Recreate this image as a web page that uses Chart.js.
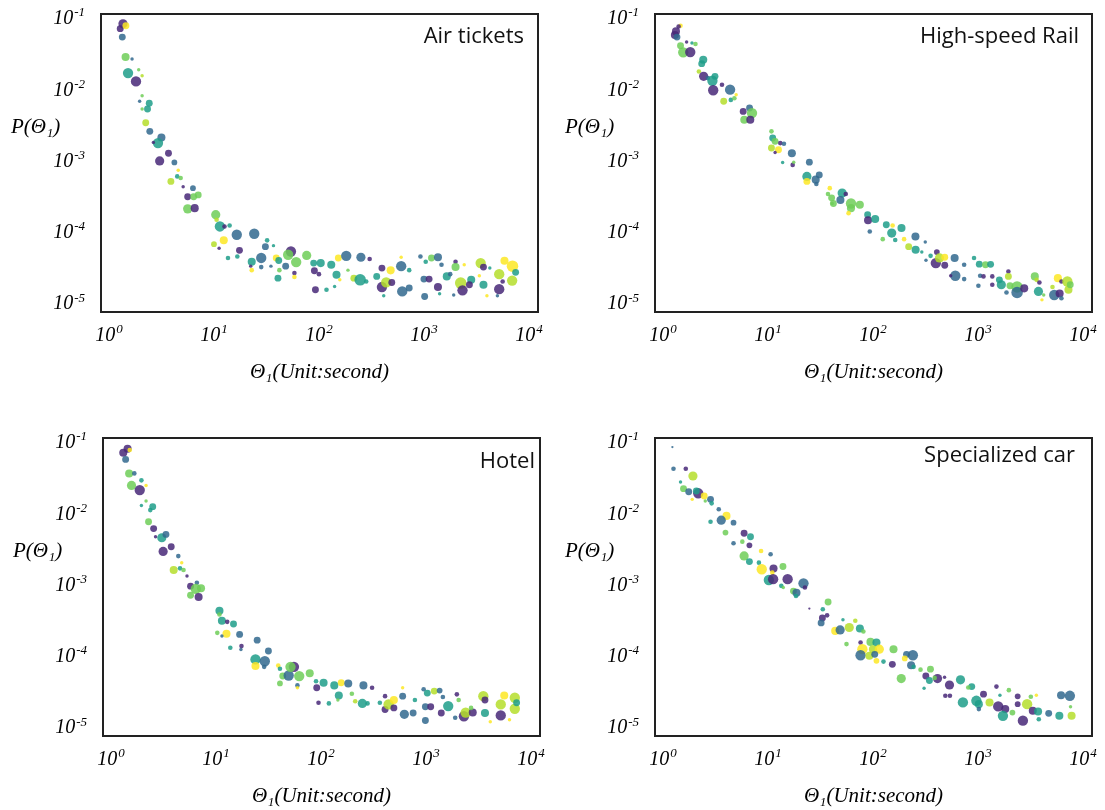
<!DOCTYPE html>
<html lang="en">
  <head>
    <meta charset="UTF-8" />
    <title>P(Θ1) by product</title>
    <style>
      body { margin: 0; background: #fff; overflow: hidden; }
      canvas { position: absolute; }
    </style>
  </head>
  <body>
    <canvas id="air" width="551" height="386" style="left:0px;top:0px"></canvas>
    <canvas id="rail" width="551" height="386" style="left:554px;top:0px"></canvas>
    <canvas id="hotel" width="551" height="386" style="left:2px;top:424px"></canvas>
    <canvas id="car" width="551" height="386" style="left:554px;top:424px"></canvas>
    <script src="https://cdn.jsdelivr.net/npm/chart.js@4.4.1/dist/chart.umd.min.js"></script>
    <script>
      const xTicks = [1, 10, 100, 1000, 10000];
      const xTickExp = ["0", "1", "2", "3", "4"];
      const yTicks = [1e-5, 1e-4, 1e-3, 1e-2, 1e-1];
      const yTickExp = ["-5", "-4", "-3", "-2", "-1"];

      // colour groups 0..5, viridis from purple to yellow
      const viridis = [
        "rgba(72,40,120,0.85)",
        "rgba(49,104,142,0.85)",
        "rgba(31,158,137,0.85)",
        "rgba(110,206,88,0.85)",
        "rgba(181,222,43,0.85)",
        "rgba(253,231,37,0.85)",
      ];

      // Air tickets
      const airX = [
        1.36,1.28,1.45,1.34,1.44,1.66,1.52,1.92,2.07,1.81,
        2.07,1.96,2.42,2.33,2.07,2.24,2.45,3.16,2.93,2.65,
        3.69,3.04,4.2,4.57,4.47,3.89,4.82,5.09,6.31,5.62,
        6.41,7.08,5.62,6.56,10.4,10.6,11.4,12.6,14.1,16.5,
        24.2,10,12.4,11.2,17.5,13.6,16.7,32.1,30.9,36.9,
        22.9,22.4,22.9,28.2,28.2,34.9,39.2,41.4,48.2,40.7,
        42,54.1,50.9,60.7,58.4,58.4,76.4,89.1,104,90.5,
        100,92.6,118,131,153,182,147,158,141,189,
        215,247,251,304,282,355,398,398,437,482,
        494,414,607,621,724,724,607,926,1040,1180,
        1360,1470,1000,1120,1016,1360,1650,1410,2000,2000,
        1780,2240,2330,2420,2820,2710,1920,3470,3690,3690,
        3370,4240,3980,5210,5210,5010,5850,5620,6970,6920,
        7470,
      ];
      const airY = [
        0.083,0.071,0.078,0.054,0.0284,0.0266,0.0169,0.0188,0.0155,0.0129,
        0.0081,0.0068,0.0064,0.0053,0.0053,0.0034,0.00257,0.00211,0.00176,0.0018,
        0.00127,0.00099,0.00094,0.00073,0.0006,0.00051,0.00057,0.00043,0.00041,0.00031,
        0.00031,0.00033,0.00021,0.000215,0.000174,0.000148,0.000119,0.000119,0.000123,9.1e-5,
        9.4e-5,6.7e-5,7.6e-5,5.9e-5,5.5e-5,4.3e-5,4.5e-5,7.6e-5,6.2e-5,6.4e-5,
        3.8e-5,3.3e-5,2.9e-5,4.3e-5,3.2e-5,3.3e-5,4.3e-5,3.97e-5,3.3e-5,2.24e-5,
        2.9e-5,5.3e-5,4.77e-5,3.76e-5,2.64e-5,2.32e-5,4.67e-5,3.64e-5,3.64e-5,2.84e-5,
        2.55e-5,1.54e-5,1.54e-5,3.45e-5,4.3e-5,4.6e-5,2.5e-5,2.12e-5,1.71e-5,2.9e-5,
        2.24e-5,2.12e-5,4.4e-5,4.15e-5,2.01e-5,2.37e-5,3.1e-5,1.68e-5,1.95e-5,2.88e-5,
        1.95e-5,1.27e-5,3.3e-5,1.46e-5,2.9e-5,1.63e-5,4.4e-5,4.5e-5,3.8e-5,4.3e-5,
        4.4e-5,3.45e-5,2.17e-5,2.17e-5,1.24e-5,1.68e-5,2.37e-5,1.35e-5,3.8e-5,3.2e-5,
        2.55e-5,1.91e-5,1.51e-5,3.45e-5,2.12e-5,1.81e-5,1.3e-5,3.64e-5,3.2e-5,1.81e-5,
        2.42e-5,3.1e-5,1.27e-5,2.55e-5,1.57e-5,1.27e-5,3.93e-5,2.01e-5,3.3e-5,2.07e-5,
        2.7e-5,
      ];
      const airR = [
        4,3,3,3,3.5,1.5,4.5,1.5,1.5,4.5,
        1.5,1.5,3,3,1.5,3,3,3.5,4.5,1.5,
        3,4,2.5,1.5,2,3,2,1.5,2.5,3,
        3,3,4,3.5,4,2,4.5,2,2,4.5,
        4.5,2.5,3.5,1.5,3,2,2,2,3,1.5,
        3.5,1.5,2,4.5,2,1.5,3,3,3,3,
        2,4.5,4.5,4.5,2,2,4,3,3.5,3,
        2,3,2,3.5,3,4.5,3.5,1.5,1.5,1.5,
        3,5,4,2,2,3,3,4.5,4.5,3.5,
        3,1.5,4.5,4.5,2,3,1.5,2,2,3,
        3.5,2,3,3,3,3.5,3.5,1.5,2,3.5,
        2,5,4.5,1.5,3.5,3,1.5,4.5,3,3.5,
        1.5,1.5,1.5,4.5,4.5,1.5,3.5,2,5,4.5,
        3,
      ];
      const airC = [
        0,0,5,1,3,1,2,3,4,0,
        3,1,2,2,3,4,1,1,2,0,
        0,0,1,5,2,4,3,0,1,0,
        3,3,3,0,3,4,2,0,2,1,
        1,4,5,0,0,2,2,2,1,2,
        2,0,5,1,1,1,5,2,1,2,
        3,0,3,3,0,5,3,2,2,0,
        0,0,2,2,5,1,2,5,2,3,
        4,2,1,0,2,2,0,0,4,5,
        0,2,1,1,2,1,5,1,2,3,
        1,1,1,0,1,0,2,2,0,3,
        1,4,0,5,2,0,1,4,0,2,
        5,2,5,4,0,1,5,0,5,4,
        2,
      ];

      // High-speed Rail
      const railX = [
        1.33,1.30,1.36,1.47,1.41,1.47,1.56,1.82,1.68,1.89,
        2.04,2.42,2.34,2.2,2.44,2.68,2.96,3.13,3.01,3.65,
        4.36,3.79,4.43,4.79,4.98,5.81,6.68,7.05,5.95,6.79,
        10.8,11.1,11.7,13.1,14.2,10.8,12.6,11.7,16.9,13.8,
        17.2,17.6,24.8,23.5,23.5,28.5,30.8,28.9,38.8,37.3,
        40.4,42,50.9,55.1,49,41,61.8,61.8,75,58.6,
        89,89.8,105,93.3,124,134,154,151,163,187,
        198,254,315,219,255,292,406,354,397,430,
        483,483,320,600,739,609,739,550,918,1030,
        1180,1320,1050,1130,1010,1370,1370,1600,1670,1950,
        1950,2020,1870,2360,2360,2760,3480,3620,3850,3770,
        4230,4070,5130,5330,6000,5770,6240,7110,7280,7570,
        6240,
      ];
      const railY = [
        0.065,0.058,0.054,0.078,0.076,0.041,0.033,0.0333,0.046,0.0446,
        0.0432,0.026,0.0229,0.0178,0.0152,0.0144,0.0132,0.0152,0.0097,0.0116,
        0.0099,0.0068,0.0071,0.0075,0.0084,0.0049,0.00546,0.00464,0.00374,0.00374,
        0.00257,0.00207,0.00186,0.00176,0.00172,0.0015,0.00142,0.0013,0.00127,0.00094,
        0.00087,0.00095,0.00095,0.0006,0.00051,0.00054,0.00063,0.00047,0.00041,0.00034,
        0.0003,0.00025,0.00035,0.00034,0.00028,0.00025,0.00025,0.000215,0.00024,0.000183,
        0.000174,0.000145,0.000151,0.000101,7.9e-5,0.000126,0.000123,9.6e-5,7.7e-5,0.000113,
        7.9e-5,8.6e-5,7.2e-5,6.2e-5,5.6e-5,5.2e-5,5.2e-5,4.6e-5,3.64e-5,4.3e-5,
        4.4e-5,3.4e-5,4e-5,4.3e-5,3.45e-5,2.42e-5,2.17e-5,2.42e-5,4.3e-5,3.52e-5,
        3.45e-5,3.5e-5,2.42e-5,2.37e-5,1.75e-5,2.37e-5,1.81e-5,2.12e-5,1.81e-5,2.78e-5,
        2.37e-5,1.75e-5,1.41e-5,1.68e-5,1.41e-5,1.61e-5,2.37e-5,2.12e-5,1.95e-5,1.46e-5,
        1.3e-5,1.11e-5,1.68e-5,1.3e-5,1.36e-5,2.24e-5,2.01e-5,2.01e-5,1.54e-5,1.81e-5,
        1.17e-5,
      ];
      const railR = [
        3.5,3.5,3,2,2,3,4.5,4.5,1.5,1.5,
        2,3.5,3,2,4,2,4.5,3,4.5,2,
        4.5,3,2,2,1.5,3,3,4.5,3.5,3.5,
        2,3,3,2,2,3,3,1.5,3.5,1.5,
        2,1.5,3,4,3,3.5,3,2,2,2,
        3,3,4,2,3.5,1.5,4.5,3.5,3.5,2,
        3,3.5,3.5,2,2,3,2,4,2,3.5,
        2,3.5,1.5,3,3.5,1.5,2.5,2,4.5,4,
        3,3,1.5,3.5,2,4.5,2,1.5,2,3,
        3,3,2,2,2,2,2,3,4,2,
        3,3,2,5,5,3.5,3.5,2,2,4,
        1.5,1.5,2,4.5,3.5,3.5,2,4.5,3.5,3,
        2,
      ];
      const railC = [
        0,0,1,5,0,3,3,0,0,2,
        3,2,2,4,0,1,2,2,0,0,
        1,4,2,3,5,0,1,3,3,0,
        3,2,3,0,1,4,5,0,1,2,
        0,3,1,2,5,1,1,1,5,3,
        3,3,2,0,1,3,3,3,3,5,
        2,0,2,1,3,2,5,2,2,2,
        5,1,1,4,2,2,0,2,0,4,
        5,0,1,1,1,1,1,0,2,2,
        3,2,1,0,1,0,0,2,2,0,
        4,3,1,3,1,0,3,4,0,2,
        3,5,4,1,0,5,0,4,4,3,
        1,
      ];

      // Hotel
      const hotelX = [
        1.44,1.31,1.51,1.38,1.49,1.67,1.57,1.88,1.95,2.16,
        2.16,1.95,2.5,2.37,2.28,2.55,2.66,3.05,3.34,3.75,
        3.14,4.38,3.96,4.55,4.91,4.72,5.3,5.73,6.58,6.43,
        7.21,5.73,6.84,10.8,10.8,11.4,12.8,14.7,10.3,12.6,
        11.4,16.8,13.7,17.5,17.3,24.7,23.8,23.8,29.2,31.6,
        28.8,39.2,40.7,43.3,40.7,49.3,55.3,51.3,62.1,59.7,
        59.7,78.2,89.8,91.2,106,134,156,182,94.8,119,
        148,145,197,212,254,307,248,278,364,408,
        408,441,495,495,600,623,755,785,600,951,
        1030,1200,1350,1450,988,1110,988,1400,1630,1970,
        2050,1900,2300,2390,2790,2690,3520,3650,3650,4100,
        5160,5160,5570,6250,7020,7020,7300,
      ];
      const hotelY = [
        0.0806,0.0708,0.0772,0.0571,0.0363,0.0363,0.0246,0.0212,0.029,0.0246,
        0.0149,0.0129,0.0124,0.0111,0.0076,0.0061,0.0047,0.00454,0.00506,0.0034,
        0.00292,0.00251,0.0016,0.00169,0.0016,0.00202,0.00132,0.00095,0.00106,0.00087,
        0.00089,0.00071,0.00067,0.00043,0.00038,0.00031,0.0003,0.00028,0.00021,0.000204,
        0.00019,0.0002,0.00013,0.000137,0.000123,0.000166,8.9e-5,7.2e-5,8.4e-5,0.000117,
        7e-5,7.3e-5,6.6e-5,5.2e-5,4.1e-5,5.3e-5,7e-5,7e-5,5.2e-5,3.85e-5,
        3.56e-5,5.7e-5,4.4e-5,3.56e-5,4.2e-5,3.85e-5,4.2e-5,4.1e-5,2.2e-5,2.15e-5,
        2.78e-5,2.4e-5,2.94e-5,2.3e-5,3.85e-5,3.56e-5,2.15e-5,2.15e-5,2.2e-5,2.72e-5,
        1.77e-5,2.08e-5,2.4e-5,1.86e-5,2.72e-5,1.51e-5,1.58e-5,2.4e-5,3.56e-5,3.4e-5,
        3e-5,3.2e-5,3.25e-5,2.64e-5,1.93e-5,1.93e-5,1.24e-5,1.58e-5,1.97e-5,2.88e-5,
        2.4e-5,1.35e-5,1.42e-5,1.6e-5,1.6e-5,1.86e-5,2.72e-5,2.4e-5,1.58e-5,1.19e-5,
        2.08e-5,1.46e-5,2.78e-5,1.27e-5,2.58e-5,1.81e-5,2.2e-5,
      ];
      const hotelR = [
        3.5,3.5,2,3,3.5,2,4,4.5,2,1.5,
        1.5,1.5,3,2,3,3,1.5,4,3,3,
        4,2,3.5,2,2,1.5,1.5,3,2,4.5,
        3.5,3,3.5,3.5,2,3.5,2,3,2,3.5,
        1.5,3,2,2,1.5,3,4.5,3.5,4.5,3,
        2,2,2,3,2.5,4.5,4.5,4.5,4.5,2,
        1.5,3.5,2,3,3.5,3.5,3,3.5,2,2,
        3.5,1.5,2,2,3.5,2,4,2,2,2,
        3,4.5,3.5,3,3,4,3,2,1.5,2,
        3,3,2.5,2,3,3,3,3,4.5,2,
        2,2,4.5,4.5,3.5,2,4.5,3,3.5,1.5,
        4.5,4.5,3.5,1.5,4.5,4.5,3,
      ];
      const hotelC = [
        0,0,5,1,3,1,3,0,2,5,
        3,2,2,2,3,0,0,2,1,0,
        0,1,4,2,3,5,0,0,1,3,
        3,3,0,2,3,2,0,2,3,5,
        1,1,2,0,1,1,2,5,1,1,
        1,5,2,3,3,1,0,3,3,1,
        5,3,2,0,2,2,5,1,0,2,
        2,3,3,4,1,0,2,2,2,0,
        0,4,5,0,1,1,1,2,5,1,
        2,4,1,1,1,0,1,0,2,0,
        3,1,0,4,0,3,4,0,2,5,
        4,0,5,5,4,4,2,
      ];

      // Specialized car
      const carX = [
        1.23,1.26,1.65,1.93,1.47,1.57,1.76,2.17,2.08,2.47,
        1.9,2.84,2.91,2.53,3.4,4.03,3.59,2.84,4.7,3.94,
        5.93,6.82,4.7,5.7,6.66,8.6,10.6,5.93,6.66,8.2,
        8.73,11.3,13.9,11,10.2,11.2,15.4,21.8,22.5,13.4,
        14,17.5,18.7,18.5,37.4,33.3,24.8,33,36.6,32.1,
        43.7,48.7,59.5,67.9,51.8,56,75.1,81.1,76.2,94.7,
        108,100,79.3,76.2,92.5,115,108,126,104,157,
        153,209,240,201,231,244,186,284,319,353,
        345,412,387,481,307,536,682,541,489,719,
        873,809,966,1020,1130,1290,1020,1500,1560,1820,
        1730,1620,1970,2390,2390,2130,2680,2940,3190,3600,
        3330,3740,3800,4720,5960,6190,7510,7800,7620,
      ];
      const carY = [
        0.085,0.0423,0.0423,0.0334,0.0275,0.0222,0.0201,0.0191,0.0206,0.0175,
        0.0157,0.0157,0.0138,0.0149,0.0114,0.0092,0.008,0.0076,0.0074,0.00536,
        0.00525,0.0047,0.0038,0.004,0.00356,0.00296,0.00266,0.00252,0.0021,0.00203,
        0.00164,0.00168,0.00179,0.00147,0.00116,0.00119,0.00119,0.00104,0.00091,0.00096,
        0.00091,0.00081,0.00077,0.00069,0.00057,0.00045,0.00046,0.00034,0.00037,0.00029,
        0.000224,0.000231,0.00025,0.00031,0.00032,0.000146,0.000242,0.00022,0.000154,0.000157,
        0.000154,0.000124,0.000124,0.000102,0.0001,0.000124,8.5e-5,8.3e-5,0.000105,0.000124,
        7.6e-5,0.000105,0.000102,9.2e-5,7.4e-5,7e-5,4.8e-5,6.4e-5,5.2e-5,6.5e-5,
        4.5e-5,4.8e-5,4.9e-5,5e-5,3.5e-5,3.9e-5,4.6e-5,2.75e-5,2.75e-5,2.22e-5,
        3.7e-5,3.6e-5,2.34e-5,2.1e-5,2.9e-5,2.22e-5,1.79e-5,3.7e-5,1.95e-5,1.79e-5,
        1.44e-5,2.8e-5,3.3e-5,2.7e-5,2.1e-5,1.6e-5,1.23e-5,2.1e-5,2.67e-5,2.8e-5,
        1.7e-5,1.66e-5,1.29e-5,1.56e-5,1.44e-5,2.8e-5,2.75e-5,1.44e-5,1.93e-5,
      ];
      const carR = [
        1,2,2,4,1.5,3,3,4.5,3,3,
        1.5,3,2,1.5,2,3.5,4,2,2.5,2.5,
        3,3,2,2,2.5,2,2,4,3,2,
        4.5,3.5,3,2,4.5,4.5,4.5,4.5,2,2,
        1.5,3,3.5,2,3,2,1,3,2,3,
        3.5,4,4,2,1.5,2,3.5,2,2,3.5,
        3.5,3.5,4.5,4.5,3.5,4,2.5,2,3,3.5,
        3,3,4.5,2.5,3.5,2,4,2,3,3,
        3,4,2,1.5,1.5,4,4,2,2,4.5,
        3,2,4.5,3.5,3,3.5,2,2,4.5,3.5,
        4.5,1.5,2,2.5,2.5,2.5,4.5,4.5,2,1.5,
        3.5,3.5,2,3,3.5,3.5,4.5,3.5,1.5,
      ];
      const carC = [
        1,1,0,4,2,3,1,0,2,5,
        5,1,2,3,1,5,1,2,1,3,
        0,2,1,3,0,5,1,3,2,2,
        5,0,3,5,2,0,0,1,0,2,
        3,3,1,2,3,2,0,0,0,1,
        5,1,4,4,2,3,2,3,0,3,
        2,4,5,1,4,5,5,2,1,3,
        0,1,1,5,1,2,3,3,0,3,
        2,0,3,0,2,0,2,0,0,2,
        2,3,2,2,0,4,1,0,0,0,
        2,2,3,0,0,3,0,4,3,5,
        0,2,2,1,2,1,1,4,3,
      ];

      const serif = '"Liberation Serif", "Times New Roman", serif';

      // "10" with a raised exponent, placed by the scale
      function powerLabel(ctx, base, exp, x, y, align) {
        ctx.font = "italic 20px " + serif;
        const wb = ctx.measureText(base).width;
        ctx.font = "italic 13px " + serif;
        const we = ctx.measureText(exp).width;
        const left = align === "right" ? x - wb - we - 1 : x - (wb + we + 1) / 2;
        ctx.textAlign = "left";
        ctx.font = "italic 20px " + serif;
        ctx.fillText(base, left, y);
        ctx.font = "italic 13px " + serif;
        ctx.fillText(exp, left + wb + 1, y - 6);
      }

      // box, tick labels, panel name inside, horizontal y title outside
      const framePlugin = {
        id: "frame",
        afterDatasetsDraw(chart, args, opts) {
          const { ctx, chartArea: a, scales } = chart;
          ctx.save();
          ctx.strokeStyle = "#222";
          ctx.lineWidth = 2;
          ctx.strokeRect(a.left, a.top, a.right - a.left, a.bottom - a.top);
          ctx.fillStyle = "#000";
          ctx.textBaseline = "middle";
          xTicks.forEach((v, i) => {
            powerLabel(ctx, "10", xTickExp[i], scales.x.getPixelForValue(v), a.bottom + 24, "center");
          });
          yTicks.forEach((v, i) => {
            powerLabel(ctx, "10", yTickExp[i], a.left - 16, scales.y.getPixelForValue(v) + 1, "right");
          });
          ctx.fillStyle = "#111";
          ctx.textAlign = "right";
          ctx.font = '22px "Open Sans", sans-serif';
          ctx.fillText(opts.label, a.right - opts.dx, a.top + opts.dy);
          ctx.fillStyle = "#000";
          ctx.textAlign = "left";
          ctx.font = "italic 21px " + serif;
          ctx.fillText("P(Θ₁)", a.left - 90, a.top + 113);
          ctx.restore();
        },
      };

      function makePanel(id, xs, ys, rs, cs, label, dx, dy) {
        const points = xs.map((x, i) => ({ x: x, y: ys[i], r: rs[i] * 1.15 }));
        new Chart(document.getElementById(id), {
          type: "bubble",
          data: {
            datasets: [
              {
                data: points,
                backgroundColor: cs.map((c) => viridis[c]),
                borderWidth: 0,
              },
            ],
          },
          options: {
            responsive: false,
            animation: false,
            events: [],
            layout: { padding: { top: 14, right: 13, left: 0, bottom: 0 } },
            plugins: {
              legend: { display: false },
              tooltip: { enabled: false },
              frame: { label: label, dx: dx, dy: dy },
            },
            scales: {
              x: {
                type: "logarithmic",
                min: 0.84,
                max: 12200,
                grid: { display: false, drawTicks: false },
                border: { display: false },
                ticks: { display: false },
                afterBuildTicks: (s) => {
                  s.ticks = xTicks.map((v) => ({ value: v }));
                },
                afterFit: (s) => {
                  s.height = 74;
                  s.paddingLeft = 0;
                  s.paddingRight = 0;
                },
                title: {
                  display: true,
                  text: "Θ₁(Unit:second)",
                  color: "#000",
                  padding: { top: 0, bottom: 1 },
                  font: { family: serif, size: 21, style: "italic" },
                },
              },
              y: {
                type: "logarithmic",
                min: 7.5e-6,
                max: 0.114,
                grid: { display: false, drawTicks: false },
                border: { display: false },
                ticks: { display: false },
                afterBuildTicks: (s) => {
                  s.ticks = yTicks.map((v) => ({ value: v }));
                },
                afterFit: (s) => {
                  s.width = 101;
                  s.paddingTop = 0;
                  s.paddingBottom = 0;
                },
              },
            },
          },
          plugins: [framePlugin],
        });
      }

      makePanel("air", airX, airY, airR, airC, "Air tickets", 14, 23);
      makePanel("rail", railX, railY, railR, railC, "High-speed Rail", 13, 23);
      makePanel("hotel", hotelX, hotelY, hotelR, hotelC, "Hotel", 5, 24);
      makePanel("car", carX, carY, carR, carC, "Specialized car", 17, 18);
    </script>
  </body>
</html>
